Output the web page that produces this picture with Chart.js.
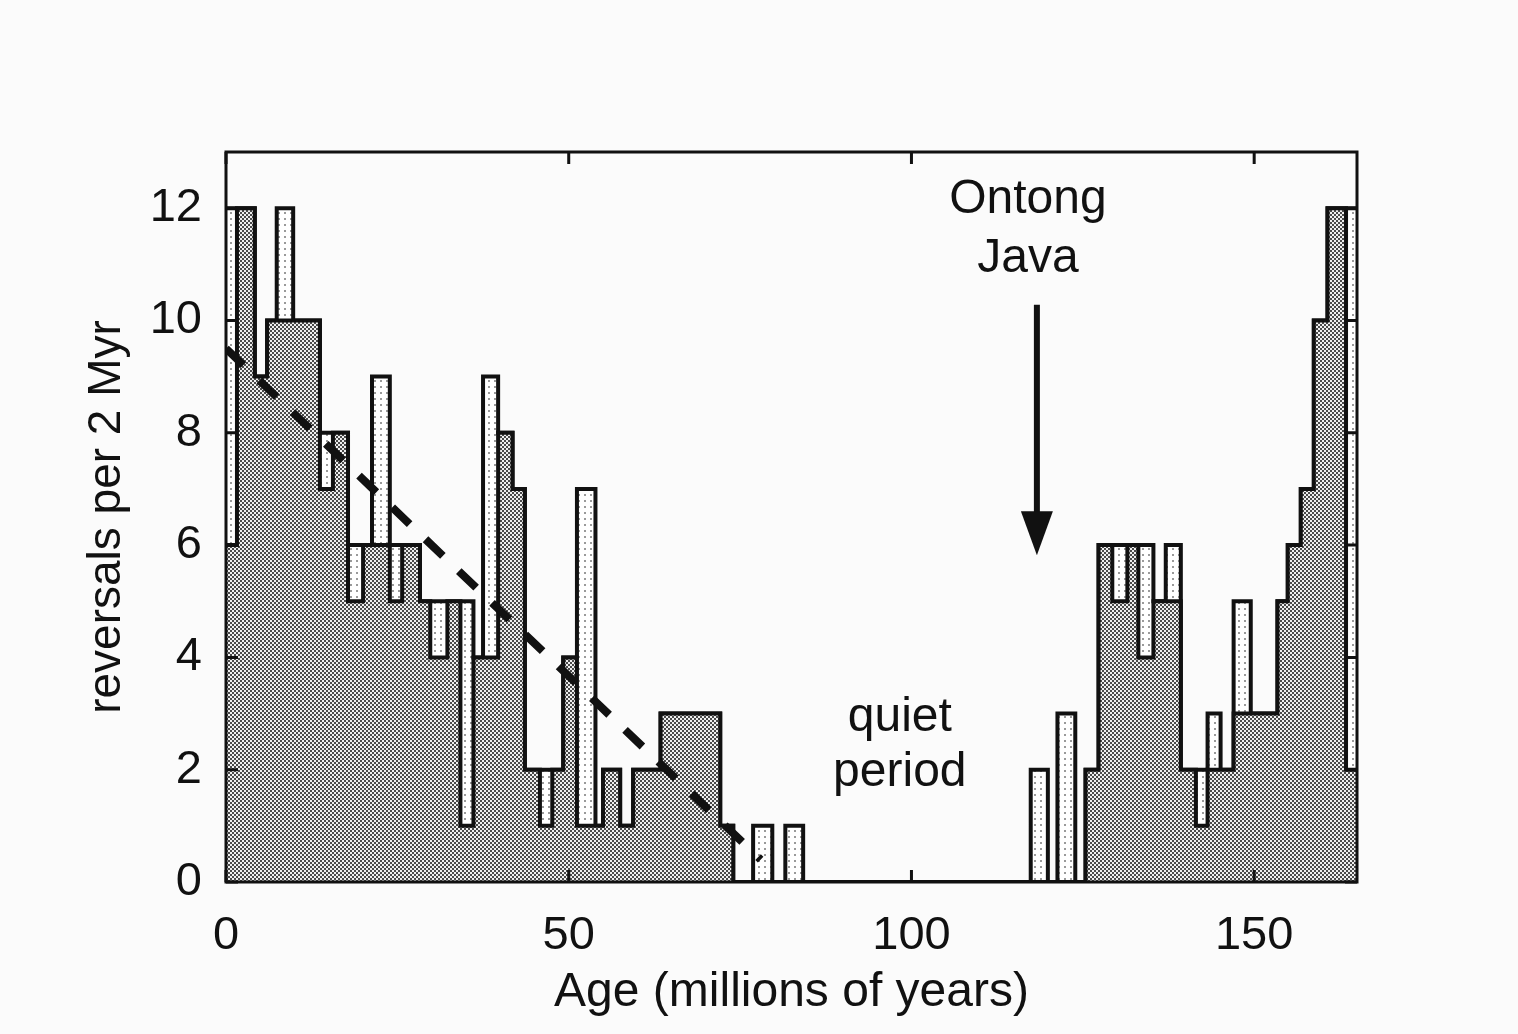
<!DOCTYPE html>
<html>
<head>
<meta charset="utf-8">
<script src="https://cdn.jsdelivr.net/npm/chart.js@4.4.1/dist/chart.umd.min.js"></script>
<style>
  html, body { margin: 0; padding: 0; background: #fbfbfb; }
</style>
</head>
<body>
<canvas id="chart" width="1518" height="1034"></canvas>
<script>
// bin edges (millions of years)
const binEdges = [0, 1.6, 4.2, 6.0, 7.4, 9.8, 13.7, 15.6, 17.8, 20.0, 21.3, 23.9, 25.7, 28.3, 29.8,
  32.3, 34.2, 36.1, 37.5, 39.7, 41.8, 43.6, 45.8, 47.6, 49.2, 51.2, 53.9, 55.0, 57.5, 59.4,
  63.4, 72.1, 74.0, 76.9, 79.7, 81.6, 84.2, 117.4, 119.9, 121.3, 123.9, 125.4, 127.3, 129.3,
  131.5, 133.1, 135.3, 137.1, 139.3, 141.5, 143.2, 145.1, 147.0, 149.5, 153.4, 154.9, 156.8,
  158.7, 160.7, 163.4, 165];

// lightly shaded histogram (outer outline)
const lightCounts = [12, 12, 9, 10, 12, 10, 8, 8, 6, 6, 9, 6, 6, 5, 5, 5, 5, 4, 9, 8, 7, 2, 2, 2,
  4, 7, 1, 2, 1, 2, 3, 1, 0, 1, 0, 1, 0, 2, 0, 3, 0, 2, 6, 6, 6, 6, 5, 6, 2, 2, 3, 2, 5, 3, 5,
  6, 7, 10, 12, 12];

// densely shaded histogram
const denseCounts = [6, 12, 9, 10, 10, 10, 7, 8, 5, 6, 6, 5, 6, 5, 4, 5, 1, 4, 4, 8, 7, 2, 1, 2,
  4, 1, 1, 2, 1, 2, 3, 1, 0, 0, 0, 0, 0, 0, 0, 0, 0, 2, 6, 5, 6, 4, 5, 5, 2, 1, 2, 2, 3, 3, 5,
  6, 7, 10, 12, 2];

// dashed trend line
const trendAge = [0, 78];
const trendRate = [9.5, 0.4];

const ageTicks = [0, 50, 100, 150];
const rateTicks = [0, 2, 4, 6, 8, 10, 12];

const ink = "#111111";
const font = '"Liberation Sans", Arial, sans-serif';

function steps(vals) {
  const pts = vals.map((v, i) => ({ x: binEdges[i], y: v }));
  pts.push({ x: binEdges[binEdges.length - 1], y: vals[vals.length - 1] });
  return pts;
}

function dots(size, bg, fg, spots) {
  const c = document.createElement("canvas");
  c.width = size; c.height = size;
  const g = c.getContext("2d");
  g.fillStyle = bg; g.fillRect(0, 0, size, size);
  g.fillStyle = fg;
  spots.forEach(s => g.fillRect(s[0], s[1], s[2], s[2]));
  return g.createPattern(c, "repeat");
}

const densePattern = dots(4, "#efefef", "#4a4a4a", [[0, 0, 2], [2, 2, 2]]);
const lightPattern = dots(6, "#ffffff", "#9a9a9a", [[2, 2, 2]]);

const decor = {
  id: "decor",
  beforeDraw(chart) {
    const ctx = chart.ctx;
    ctx.save();
    ctx.fillStyle = "#fbfbfb";
    ctx.fillRect(0, 0, chart.width, chart.height);
    ctx.restore();
  },
  afterDatasetsDraw(chart) {
    const { ctx, chartArea: a, scales: { x, y } } = chart;
    ctx.save();
    ctx.strokeStyle = ink;
    ctx.fillStyle = ink;
    ctx.lineWidth = 3;
    ctx.strokeRect(a.left, a.top, a.right - a.left, a.bottom - a.top);

    // inward ticks
    ctx.beginPath();
    rateTicks.forEach(v => {
      const py = y.getPixelForValue(v);
      ctx.moveTo(a.left, py); ctx.lineTo(a.left + 12, py);
      ctx.moveTo(a.right - 12, py); ctx.lineTo(a.right, py);
    });
    ageTicks.forEach(v => {
      const px = x.getPixelForValue(v);
      ctx.moveTo(px, a.bottom); ctx.lineTo(px, a.bottom - 12);
      ctx.moveTo(px, a.top); ctx.lineTo(px, a.top + 12);
    });
    ctx.stroke();

    // labels
    ctx.font = "48px " + font;
    ctx.textAlign = "center";
    ctx.textBaseline = "middle";
    ctx.fillText("Ontong", x.getPixelForValue(117.0), y.getPixelForValue(12.15));
    ctx.fillText("Java", x.getPixelForValue(117.0), y.getPixelForValue(11.1));
    ctx.fillText("quiet", x.getPixelForValue(98.3), y.getPixelForValue(2.92));
    ctx.fillText("period", x.getPixelForValue(98.3), y.getPixelForValue(1.94));

    // arrow
    const ax = x.getPixelForValue(118.3);
    const y0 = y.getPixelForValue(10.28);
    const y1 = y.getPixelForValue(5.82);
    ctx.lineWidth = 6;
    ctx.beginPath();
    ctx.moveTo(ax, y0);
    ctx.lineTo(ax, y1 - 30);
    ctx.stroke();
    ctx.beginPath();
    ctx.moveTo(ax - 16, y1 - 44);
    ctx.lineTo(ax + 16, y1 - 44);
    ctx.lineTo(ax, y1);
    ctx.closePath();
    ctx.fill();
    ctx.restore();
  }
};

new Chart(document.getElementById("chart"), {
  type: "line",
  data: {
    datasets: [
      {
        label: "trend",
        data: trendAge.map((a, i) => ({ x: a, y: trendRate[i] })),
        borderColor: ink,
        borderWidth: 8,
        borderDash: [24, 22],
        pointRadius: 0,
        fill: false,
        order: 0
      },
      {
        label: "dense",
        data: steps(denseCounts),
        stepped: "before",
        borderColor: ink,
        borderWidth: 4,
        backgroundColor: densePattern,
        pointRadius: 0,
        fill: "origin",
        order: 1
      },
      {
        label: "light",
        data: steps(lightCounts),
        stepped: "before",
        borderColor: ink,
        borderWidth: 4,
        backgroundColor: lightPattern,
        pointRadius: 0,
        fill: "origin",
        order: 2
      }
    ]
  },
  options: {
    responsive: false,
    animation: false,
    devicePixelRatio: 1,
    layout: { padding: { left: 80, right: 161, top: 152, bottom: 12 } },
    plugins: { legend: { display: false }, tooltip: { enabled: false } },
    scales: {
      x: {
        type: "linear",
        min: 0,
        max: 165,
        afterBuildTicks: s => { s.ticks = ageTicks.map(v => ({ value: v })); },
        afterFit: s => { s.height = 140; },
        grid: { display: false },
        border: { display: false },
        ticks: { color: ink, padding: 18, font: { size: 47, family: font } },
        title: { display: true, text: "Age (millions of years)", color: ink, padding: 0,
          font: { size: 48, family: font } }
      },
      y: {
        min: 0,
        max: 13,
        afterBuildTicks: s => { s.ticks = rateTicks.map(v => ({ value: v })); },
        afterFit: s => { s.width = 146; },
        grid: { display: false },
        border: { display: false },
        ticks: { color: ink, padding: 16, font: { size: 47, family: font } },
        title: { display: true, text: "reversals per 2 Myr", color: ink, padding: 0,
          font: { size: 46, family: font } }
      }
    }
  },
  plugins: [decor]
});
</script>
</body>
</html>
